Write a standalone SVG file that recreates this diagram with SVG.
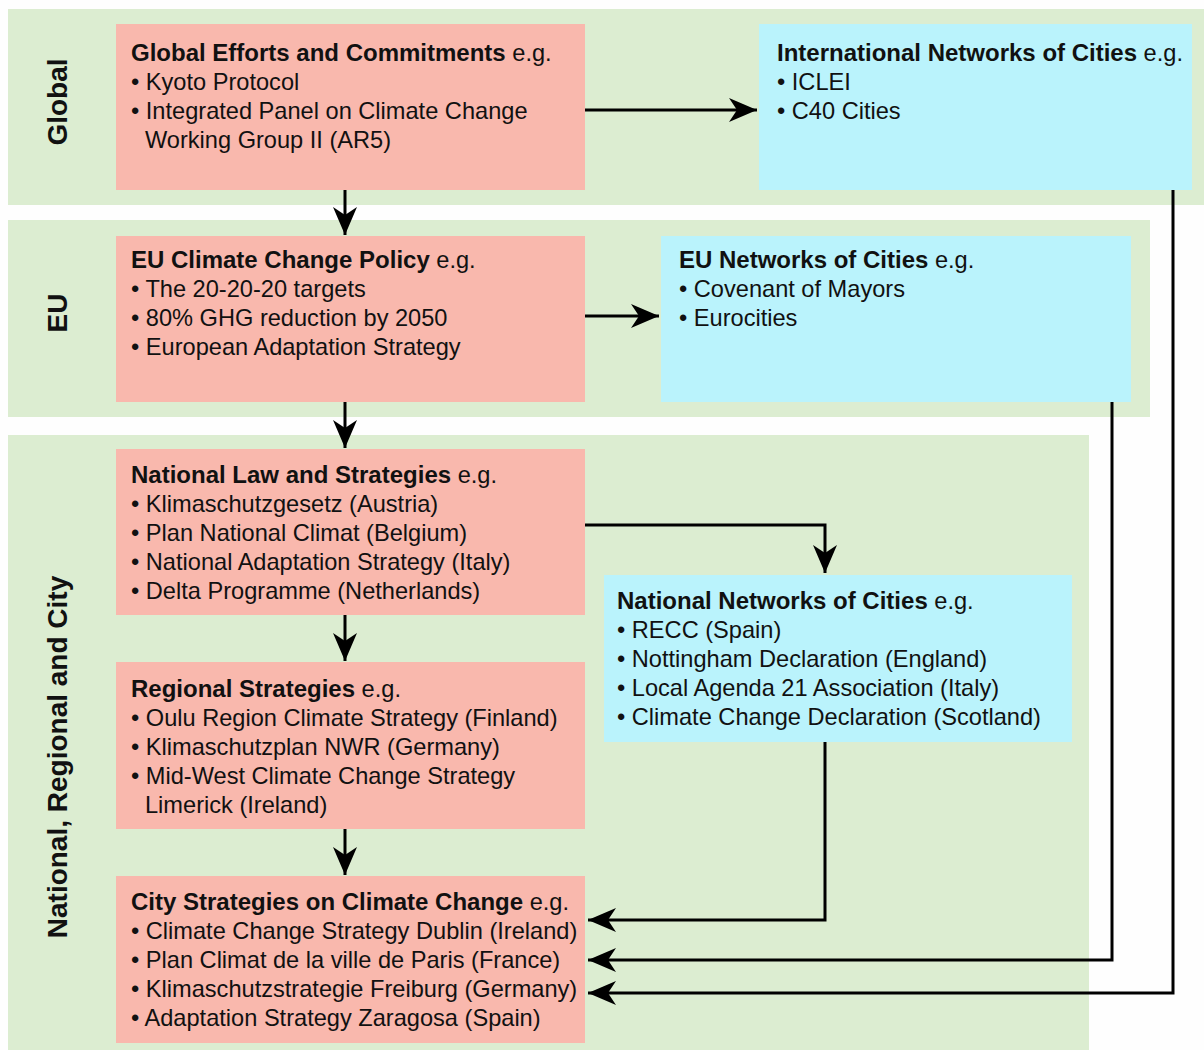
<svg xmlns="http://www.w3.org/2000/svg" width="1204" height="1050" viewBox="0 0 1204 1050">
<defs>
<style>
.band{fill:#dcedd1}
.red{fill:#f9b8ad}
.blue{fill:#baf3fc}
text{font-family:"Liberation Sans",Arial,sans-serif;font-size:23.6px;fill:#111}
.b{font-weight:bold;font-size:24px}
.side{font-weight:bold;font-size:28px;text-anchor:middle}
.conn{fill:none;stroke:#000;stroke-width:3}
</style>
<marker id="ah" markerUnits="userSpaceOnUse" markerWidth="32" markerHeight="28" viewBox="-30 -13 32 26" refX="0" refY="0" orient="auto">
<path d="M0,0 L-28,-12 L-20,0 L-28,12 Z" fill="#000"/>
</marker>
</defs>
<rect width="1204" height="1050" fill="#fefefe"/>
<g id="bands">
<rect class="band" x="8" y="9" width="1196" height="196"/>
<rect class="band" x="8" y="220" width="1142" height="197"/>
<rect class="band" x="8" y="435" width="1081" height="615"/>
<text class="side" transform="translate(67,102) rotate(-90)">Global</text>
<text class="side" transform="translate(67,313) rotate(-90)">EU</text>
<text class="side" transform="translate(67,757) rotate(-90)">National, Regional and City</text>
</g>
<g id="global-efforts">
<rect class="red" x="116" y="24" width="469" height="166"/>
<text x="131" y="61"><tspan class="b">Global Efforts and Commitments</tspan> e.g.</text>
<text x="131" y="90">• Kyoto Protocol</text>
<text x="131" y="119">• Integrated Panel on Climate Change</text>
<text x="145" y="148">Working Group II (AR5)</text>
</g>
<g id="international-networks">
<rect class="blue" x="759" y="24" width="433" height="166"/>
<text x="777" y="61"><tspan class="b">International Networks of Cities</tspan> e.g.</text>
<text x="777" y="90">• ICLEI</text>
<text x="777" y="119">• C40 Cities</text>
</g>
<g id="eu-policy">
<rect class="red" x="116" y="236" width="469" height="166"/>
<text x="131" y="268"><tspan class="b">EU Climate Change Policy</tspan> e.g.</text>
<text x="131" y="297">• The 20-20-20 targets</text>
<text x="131" y="326">• 80% GHG reduction by 2050</text>
<text x="131" y="355">• European Adaptation Strategy</text>
</g>
<g id="eu-networks">
<rect class="blue" x="661" y="236" width="470" height="166"/>
<text x="679" y="268"><tspan class="b">EU Networks of Cities</tspan> e.g.</text>
<text x="679" y="297">• Covenant of Mayors</text>
<text x="679" y="326">• Eurocities</text>
</g>
<g id="national-law">
<rect class="red" x="116" y="449" width="469" height="166"/>
<text x="131" y="483"><tspan class="b">National Law and Strategies</tspan> e.g.</text>
<text x="131" y="512">• Klimaschutzgesetz (Austria)</text>
<text x="131" y="541">• Plan National Climat (Belgium)</text>
<text x="131" y="570">• National Adaptation Strategy (Italy)</text>
<text x="131" y="599">• Delta Programme (Netherlands)</text>
</g>
<g id="national-networks">
<rect class="blue" x="604" y="575" width="468" height="167"/>
<text x="617" y="609"><tspan class="b">National Networks of Cities</tspan> e.g.</text>
<text x="617" y="638">• RECC (Spain)</text>
<text x="617" y="667">• Nottingham Declaration (England)</text>
<text x="617" y="696">• Local Agenda 21 Association (Italy)</text>
<text x="617" y="725">• Climate Change Declaration (Scotland)</text>
</g>
<g id="regional">
<rect class="red" x="116" y="662" width="469" height="167"/>
<text x="131" y="697"><tspan class="b">Regional Strategies</tspan> e.g.</text>
<text x="131" y="726">• Oulu Region Climate Strategy (Finland)</text>
<text x="131" y="755">• Klimaschutzplan NWR (Germany)</text>
<text x="131" y="784">• Mid-West Climate Change Strategy</text>
<text x="145" y="813">Limerick (Ireland)</text>
</g>
<g id="city">
<rect class="red" x="116" y="876" width="469" height="167"/>
<text x="131" y="910"><tspan class="b">City Strategies on Climate Change</tspan> e.g.</text>
<text x="131" y="939">• Climate Change Strategy Dublin (Ireland)</text>
<text x="131" y="968">• Plan Climat de la ville de Paris (France)</text>
<text x="131" y="997">• Klimaschutzstrategie Freiburg (Germany)</text>
<text x="131" y="1026">• Adaptation Strategy Zaragosa (Spain)</text>
</g>
<g id="connectors">
<path class="conn" d="M585,110 H757" marker-end="url(#ah)"/>
<path class="conn" d="M585,316 H659" marker-end="url(#ah)"/>
<path class="conn" d="M345,190 V235" marker-end="url(#ah)"/>
<path class="conn" d="M345,402 V448" marker-end="url(#ah)"/>
<path class="conn" d="M345,615 V661" marker-end="url(#ah)"/>
<path class="conn" d="M345,829 V875" marker-end="url(#ah)"/>
<path class="conn" d="M585,525 H825 V573" marker-end="url(#ah)"/>
<path class="conn" d="M825,742 V920 H588" marker-end="url(#ah)"/>
<path class="conn" d="M1112,402 V960 H588" marker-end="url(#ah)"/>
<path class="conn" d="M1173,190 V993 H588" marker-end="url(#ah)"/>
</g>
</svg>
